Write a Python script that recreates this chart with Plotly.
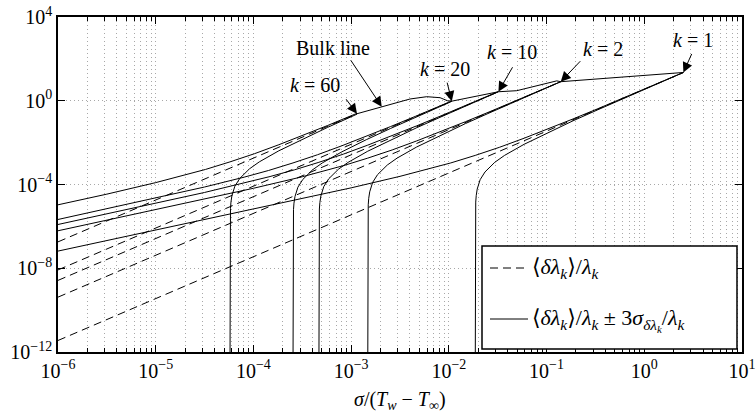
import numpy as np
import plotly.graph_objects as go

# All positions are log10 values: x = log10(sigma/(Tw - Tinf)), y = log10(delta lambda / lambda)

# k = 60
k60_mean_x = [-6.0, -2.94]
k60_mean_y = [-6.74, -0.62]
k60_upper_x = [-6.0, -5.5, -5.0, -4.74, -4.49, -4.24, -3.99, -3.74, -3.49, -3.24, -2.94]
k60_upper_y = [-4.97, -4.46, -3.91, -3.60, -3.28, -2.92, -2.53, -2.10, -1.65, -1.18, -0.60]
k60_lower_x = [-4.24, -4.238, -4.235, -4.23, -4.22, -4.19, -4.14, -4.04, -3.94, -3.74, -3.49, -3.24, -2.94]
k60_lower_y = [-13.0, -5.55, -5.15, -4.84, -4.53, -4.08, -3.71, -3.25, -2.92, -2.39, -1.81, -1.27, -0.64]

# k = 20
k20_mean_x = [-6.0, -1.97]
k20_mean_y = [-8.08, -0.02]
k20_upper_x = [-6.0, -5.0, -4.5, -4.095, -3.845, -3.595, -3.345, -3.095, -2.845, -2.595, -2.345, -2.095, -1.97]
k20_upper_y = [-5.67, -4.66, -4.12, -3.65, -3.33, -2.97, -2.58, -2.15, -1.70, -1.23, -0.75, -0.26, -0.01]
k20_lower_x = [-3.595, -3.593, -3.59, -3.585, -3.575, -3.545, -3.495, -3.395, -3.295, -3.095, -2.845, -2.595, -2.345, -2.095, -1.97]
k20_lower_y = [-13.0, -5.60, -5.20, -4.89, -4.58, -4.13, -3.76, -3.30, -2.97, -2.44, -1.86, -1.32, -0.80, -0.28, -0.03]

# k = 10
k10_mean_x = [-6.0, -1.493]
k10_mean_y = [-8.58, 0.43]
k10_upper_x = [-6.0, -5.0, -4.5, -3.83, -3.58, -3.33, -3.08, -2.83, -2.58, -2.33, -2.08, -1.83, -1.493]
k10_upper_y = [-5.91, -4.90, -4.38, -3.62, -3.30, -2.94, -2.55, -2.12, -1.67, -1.20, -0.72, -0.23, 0.44]
k10_lower_x = [-3.33, -3.328, -3.325, -3.32, -3.31, -3.28, -3.23, -3.13, -3.03, -2.83, -2.58, -2.33, -2.08, -1.83, -1.493]
k10_lower_y = [-13.0, -5.57, -5.17, -4.86, -4.55, -4.10, -3.73, -3.27, -2.94, -2.41, -1.83, -1.29, -0.77, -0.25, 0.43]

# k = 2
k2_mean_x = [-6.0, -0.855]
k2_mean_y = [-9.38, 0.91]
k2_upper_x = [-6.0, -5.0, -4.0, -3.5, -3.08, -2.83, -2.58, -2.33, -2.08, -1.83, -1.58, -1.33, -1.08, -0.855]
k2_upper_y = [-6.21, -5.21, -4.18, -3.63, -3.10, -2.74, -2.35, -1.92, -1.47, -1.00, -0.52, -0.03, 0.47, 0.91]
k2_lower_x = [-2.83, -2.828, -2.825, -2.82, -2.81, -2.78, -2.73, -2.63, -2.53, -2.33, -2.08, -1.83, -1.58, -1.33, -1.08, -0.855]
k2_lower_y = [-13.0, -5.37, -4.97, -4.66, -4.35, -3.90, -3.53, -3.07, -2.74, -2.21, -1.63, -1.09, -0.57, -0.05, 0.45, 0.91]

# k = 1
k1_mean_x = [-6.0, 0.40]
k1_mean_y = [-11.45, 1.35]
k1_upper_x = [-6.0, -4.0, -3.0, -2.5, -2.23, -1.98, -1.73, -1.48, -1.23, -0.98, -0.73, -0.48, -0.23, 0.02, 0.27, 0.40]
k1_upper_y = [-7.18, -5.18, -4.16, -3.61, -3.29, -2.97, -2.61, -2.22, -1.79, -1.34, -0.87, -0.39, 0.10, 0.60, 1.09, 1.35]
k1_lower_x = [-1.73, -1.728, -1.725, -1.72, -1.71, -1.68, -1.63, -1.53, -1.43, -1.23, -0.98, -0.73, -0.48, -0.23, 0.02, 0.27, 0.40]
k1_lower_y = [-13.0, -5.24, -4.84, -4.53, -4.22, -3.77, -3.40, -2.94, -2.61, -2.08, -1.50, -0.96, -0.44, 0.08, 0.58, 1.09, 1.35]

# bulk line through the end points of the individual modes
bulk_x = [-2.94, -2.687, -2.397, -2.226, -2.09, -2.015, -1.97, -1.493, -1.305, -0.896, -0.855, 0.40]
bulk_y = [-0.62, -0.283, 0.084, 0.194, 0.146, 0.003, -0.02, 0.43, 0.48, 0.95, 0.91, 1.35]

x_ticks = [-6, -5, -4, -3, -2, -1, 0, 1]
x_tick_text = ["10<sup>−6</sup>", "10<sup>−5</sup>", "10<sup>−4</sup>", "10<sup>−3</sup>",
               "10<sup>−2</sup>", "10<sup>−1</sup>", "10<sup>0</sup>", "10<sup>1</sup>"]
y_ticks = [-12, -8, -4, 0, 4]
y_tick_text = ["10<sup>−12</sup>", "10<sup>−8</sup>", "10<sup>−4</sup>", "10<sup>0</sup>", "10<sup>4</sup>"]

modes = [
    (60, k60_mean_x, k60_mean_y, k60_upper_x, k60_upper_y, k60_lower_x, k60_lower_y),
    (20, k20_mean_x, k20_mean_y, k20_upper_x, k20_upper_y, k20_lower_x, k20_lower_y),
    (10, k10_mean_x, k10_mean_y, k10_upper_x, k10_upper_y, k10_lower_x, k10_lower_y),
    (2, k2_mean_x, k2_mean_y, k2_upper_x, k2_upper_y, k2_lower_x, k2_lower_y),
    (1, k1_mean_x, k1_mean_y, k1_upper_x, k1_upper_y, k1_lower_x, k1_lower_y),
]

FONT = "Times New Roman, Liberation Serif, DejaVu Serif, serif"
W, H = 756, 417
ML, MR, MT, MB = 58, 14, 17, 65
PW, PH = W - ML - MR, H - MT - MB


def px(xp):
    return (xp - ML) / PW


def py(yp):
    return (H - MB - yp) / PH


def p10(v):
    return 10.0 ** np.asarray(v, dtype=float)


fig = go.Figure()
line_solid = dict(color="black", width=1)
line_dash = dict(color="black", width=1, dash="8px,5px")

for k, mx, my, ux, uy, lx, ly in modes:
    fig.add_trace(go.Scatter(x=p10(ux), y=p10(uy), mode="lines", line=line_solid,
                             showlegend=False, hoverinfo="skip"))
    fig.add_trace(go.Scatter(x=p10(lx), y=p10(ly), mode="lines", line=line_solid,
                             showlegend=False, hoverinfo="skip"))
    fig.add_trace(go.Scatter(x=p10(mx), y=p10(my), mode="lines", line=line_dash,
                             showlegend=False, hoverinfo="skip"))

fig.add_trace(go.Scatter(x=p10(bulk_x), y=p10(bulk_y), mode="lines", line=line_solid,
                         showlegend=False, hoverinfo="skip"))

grid_col = "#a8a8a8"
grid_dash = "1px,3px"
axis_common = dict(
    type="log", showline=True, linecolor="black", linewidth=1.5, mirror="allticks",
    ticks="inside", ticklen=7, tickcolor="black", tickwidth=1,
    showgrid=True, gridcolor=grid_col, gridwidth=1, griddash=grid_dash,
    zeroline=False, tickfont=dict(family=FONT, size=20, color="black"),
    automargin=False,
)

fig.update_xaxes(
    range=[-6, 1], tickvals=p10(x_ticks), ticktext=x_tick_text,
    minor=dict(dtick="D1", ticks="inside", ticklen=4, tickcolor="black",
               showgrid=True, gridcolor=grid_col, gridwidth=1, griddash=grid_dash),
    **axis_common,
)
fig.update_yaxes(range=[-12, 4], tickvals=p10(y_ticks), ticktext=y_tick_text, **axis_common)

annotations = []

# text labels
labels = [
    ("Bulk line", 333, 48),
    ("<i>k</i> = 60", 315, 85),
    ("<i>k</i> = 20", 445, 68.5),
    ("<i>k</i> = 10", 512, 52),
    ("<i>k</i> = 2", 603, 48.5),
    ("<i>k</i> = 1", 692.5, 40),
]
for txt, xp, yp in labels:
    annotations.append(dict(text=txt, x=px(xp), y=py(yp), xref="paper", yref="paper",
                            showarrow=False, xanchor="center", yanchor="middle",
                            font=dict(family=FONT, size=20, color="black")))

# arrows pointing to the bulk line and the mode end points (tip in data units, tail offset in px)
arrows = [
    (bulk_x[1], bulk_y[1], -32, -48),
    (k60_mean_x[-1], k60_mean_y[-1], -12, -16),
    (k20_mean_x[-1], k20_mean_y[-1], -5, -20),
    (k10_mean_x[-1], k10_mean_y[-1], 15, -26),
    (k2_mean_x[-1], k2_mean_y[-1], 21, -22),
    (k1_mean_x[-1], k1_mean_y[-1], 9, -20),
]
for xt, yt, ax, ay in arrows:
    annotations.append(dict(text="", x=xt, y=yt, xref="x", yref="y", ax=ax, ay=ay,
                            showarrow=True, arrowhead=2, arrowsize=2, arrowwidth=1,
                            arrowcolor="black", standoff=0, startstandoff=0))

# axis title
annotations.append(dict(
    text="<i>σ</i>/(<i>T</i><sub><i>w</i></sub> − <i>T</i><sub>∞</sub>)",
    x=0.5, y=py(400), xref="paper", yref="paper", showarrow=False,
    xanchor="center", yanchor="middle", font=dict(family=FONT, size=20, color="black")))

# legend
leg_font = dict(family=FONT, size=22, color="black")
mean_txt = "⟨<i>δλ</i><sub><i>k</i></sub>⟩/<i>λ</i><sub><i>k</i></sub>"
band_txt = mean_txt + " ± 3<i>σ</i><sub><i>δλ</i><sub><i>k</i></sub></sub>/<i>λ</i><sub><i>k</i></sub>"
annotations.append(dict(text=mean_txt, x=px(530), y=py(268), xref="paper", yref="paper",
                        showarrow=False, xanchor="left", yanchor="middle", font=leg_font))
annotations.append(dict(text=band_txt, x=px(530), y=py(320), xref="paper", yref="paper",
                        showarrow=False, xanchor="left", yanchor="middle", font=leg_font))

shapes = [
    dict(type="rect", xref="paper", yref="paper", x0=px(482), x1=px(737), y0=py(349), y1=py(246),
         line=dict(color="black", width=1.5), fillcolor="white", layer="above"),
    dict(type="line", xref="paper", yref="paper", x0=px(490), x1=px(528), y0=py(268), y1=py(268),
         line=dict(color="black", width=1, dash="8px,5px"), layer="above"),
    dict(type="line", xref="paper", yref="paper", x0=px(490), x1=px(528), y0=py(319), y1=py(319),
         line=dict(color="black", width=1), layer="above"),
]

fig.update_layout(
    width=W, height=H, margin=dict(l=ML, r=MR, t=MT, b=MB),
    paper_bgcolor="white", plot_bgcolor="white",
    font=dict(family=FONT, size=20, color="black"),
    annotations=annotations, shapes=shapes, showlegend=False,
)

fig.write_html("out.html")
